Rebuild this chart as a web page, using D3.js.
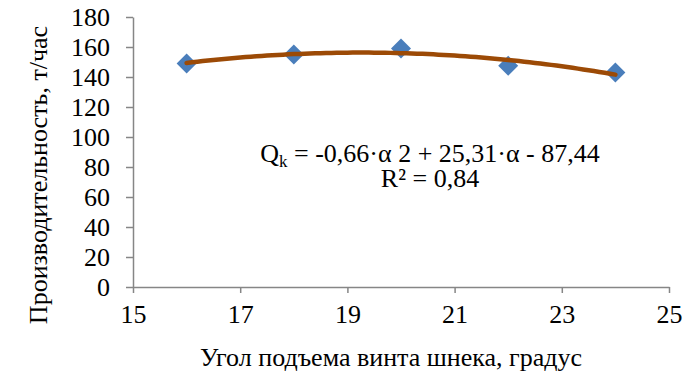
<!DOCTYPE html>
<html>
<head>
<meta charset="utf-8">
<script src="https://cdn.jsdelivr.net/npm/d3@7"></script>
<style>
  html, body { margin: 0; padding: 0; background: #fff; }
  svg { display: block; }
  svg text { font-family: "Liberation Serif", "Times New Roman", serif; fill: #000; }
</style>
</head>
<body>
<svg id="chart" width="693" height="375"></svg>
<script>
// Screw flight angle, degrees
const angles = [16, 18, 20, 22, 24];
// Throughput, t/h
const throughput = [149, 155, 159, 147.5, 143];
const xTicks = [15, 17, 19, 21, 23, 25];
const yTicks = [0, 20, 40, 60, 80, 100, 120, 140, 160, 180];
const xTitle = "Угол подъема винта шнека, градус";
const yTitle = "Производительность, т/час";
const eqLabel = ["-0,66·α 2 + 25,31·α - 87,44"];
const r2Label = "R² = 0,84";

const FONT = "'Liberation Serif', 'Times New Roman', serif";
const svg = d3.select("#chart");
const x = d3.scaleLinear().domain([15, 25]).range([133, 669]);
const y = d3.scaleLinear().domain([0, 180]).range([287, 17]);

const axisColor = "#868686";

// Axes
const gx = svg.append("g").attr("transform", `translate(0,${y(0)})`)
  .call(d3.axisBottom(x).tickValues(xTicks).tickSize(6).tickSizeOuter(0).tickPadding(8));
const gy = svg.append("g").attr("transform", `translate(${x(15)},0)`)
  .call(d3.axisLeft(y).tickValues(yTicks).tickSize(7).tickSizeOuter(0).tickPadding(16));
[gx, gy].forEach(g => {
  g.attr("font-family", FONT).attr("font-size", 26);
  g.select(".domain").attr("stroke", axisColor).attr("stroke-width", 1.5);
  g.selectAll(".tick line").attr("stroke", axisColor).attr("stroke-width", 1.5);
  g.selectAll(".tick text").attr("fill", "#000");
});
gy.selectAll(".tick text").attr("dy", "0.34em");
gx.selectAll(".tick text").attr("dy", "0.85em");

// Least-squares quadratic trend fitted to the measurements
function quadFit(xs, ys) {
  const n = xs.length;
  const s = [0, 0, 0, 0, 0], t = [0, 0, 0];
  for (let i = 0; i < n; i++) {
    let p = 1;
    for (let k = 0; k <= 4; k++) { s[k] += p; if (k <= 2) t[k] += p * ys[i]; p *= xs[i]; }
  }
  const A = [[s[0], s[1], s[2], t[0]], [s[1], s[2], s[3], t[1]], [s[2], s[3], s[4], t[2]]];
  for (let c = 0; c < 3; c++) {
    for (let r = c + 1; r < 3; r++) {
      const f = A[r][c] / A[c][c];
      for (let k = c; k < 4; k++) A[r][k] -= f * A[c][k];
    }
  }
  const b = [0, 0, 0];
  for (let r = 2; r >= 0; r--) {
    let v = A[r][3];
    for (let k = r + 1; k < 3; k++) v -= A[r][k] * b[k];
    b[r] = v / A[r][r];
  }
  return b; // c0 + c1*x + c2*x^2
}
const coef = quadFit(angles, throughput);
const trendX = d3.range(angles[0], angles[angles.length - 1] + 0.001, 0.1);
const trend = trendX.map(a => [a, coef[0] + coef[1] * a + coef[2] * a * a]);

// Diamond markers
svg.append("g").selectAll("path").data(angles.map((a, i) => [a, throughput[i]]))
  .join("path")
  .attr("d", d3.symbol().type(d3.symbolSquare).size(200))
  .attr("transform", d => `translate(${x(d[0])},${y(d[1])}) rotate(45)`)
  .attr("fill", "#4a7ebb");

// Trend line
svg.append("path")
  .datum(trend)
  .attr("d", d3.line().x(d => x(d[0])).y(d => y(d[1])))
  .attr("fill", "none")
  .attr("stroke", "#9c4a06")
  .attr("stroke-width", 4.5)
  .attr("stroke-linecap", "round");

// Trend equation
const eq = svg.append("text").attr("x", 430).attr("y", 162)
  .attr("text-anchor", "middle").attr("font-family", FONT).attr("font-size", 26);
eq.append("tspan").text("Q");
eq.append("tspan").text("k").attr("font-size", 17).attr("dy", 5);
eq.append("tspan").text(" = " + eqLabel[0]).attr("dy", -5);
svg.append("text").attr("x", 430).attr("y", 187)
  .attr("text-anchor", "middle").attr("font-family", FONT).attr("font-size", 26).text(r2Label);

// Axis titles
svg.append("text").attr("x", 391).attr("y", 366)
  .attr("text-anchor", "middle").attr("font-family", FONT).attr("font-size", 26).text(xTitle);
svg.append("text").attr("transform", "translate(47,175) rotate(-90)")
  .attr("text-anchor", "middle").attr("font-family", FONT).attr("font-size", 26).text(yTitle);
</script>
</body>
</html>
